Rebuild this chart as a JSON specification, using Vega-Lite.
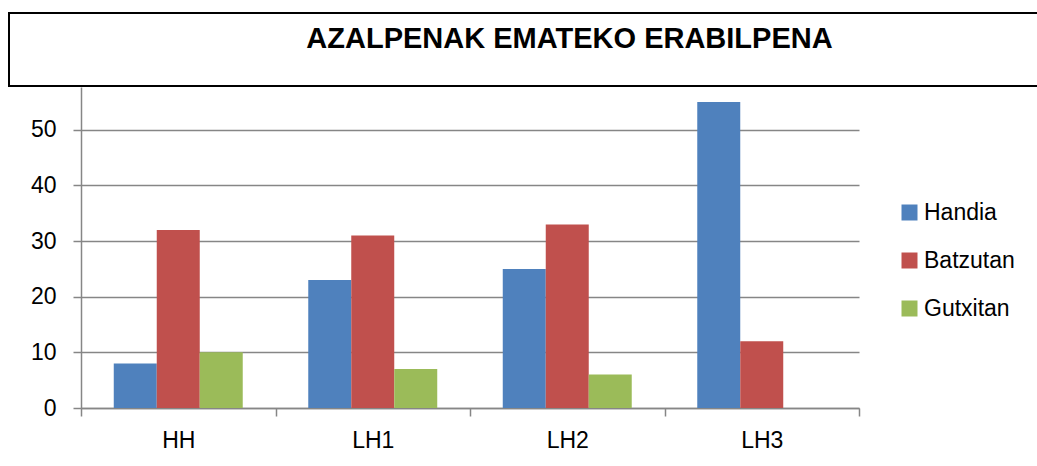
{
  "$schema": "https://vega.github.io/schema/vega-lite/v6.json",
  "padding": {"left": 8, "top": 12, "right": 0, "bottom": 0},
  "spacing": 0,
  "background": "white",
  "resolve": {"legend": {"color": "independent"}},
  "config": {
    "font": "Liberation Sans",
    "axis": {"labelFont": "Liberation Sans", "labelColor": "black"},
    "legend": {"labelFont": "Liberation Sans"}
  },
  "vconcat": [
    {
      "width": 1029,
      "height": 73,
      "view": {"stroke": "black", "strokeWidth": 2, "fill": "white"},
      "data": {"values": [{"title": "AZALPENAK EMATEKO ERABILPENA"}]},
      "mark": {"type": "text", "font": "Liberation Sans", "fontWeight": "bold", "fontSize": 29, "color": "black", "dx": 46, "dy": -11, "baseline": "middle", "align": "center"},
      "encoding": {"text": {"field": "title"}}
    },
    {
      "width": 850,
      "height": 321,
      "view": {"stroke": null},
      "data": {"values": [
        {"category": "HH", "series": "Handia", "value": 8},
        {"category": "HH", "series": "Batzutan", "value": 32},
        {"category": "HH", "series": "Gutxitan", "value": 10},
        {"category": "LH1", "series": "Handia", "value": 23},
        {"category": "LH1", "series": "Batzutan", "value": 31},
        {"category": "LH1", "series": "Gutxitan", "value": 7},
        {"category": "LH2", "series": "Handia", "value": 25},
        {"category": "LH2", "series": "Batzutan", "value": 33},
        {"category": "LH2", "series": "Gutxitan", "value": 6},
        {"category": "LH3", "series": "Handia", "value": 55},
        {"category": "LH3", "series": "Batzutan", "value": 12}
      ]},
      "mark": {"type": "bar"},
      "encoding": {
        "x": {
          "field": "category", "type": "nominal", "sort": ["HH", "LH1", "LH2", "LH3"],
          "scale": {"range": [72, 850], "paddingInner": 0, "paddingOuter": 0},
          "axis": {
            "title": null, "labelAngle": 0, "labelFontSize": 23, "labelPadding": 13,
            "domainColor": "#868686", "domainWidth": 1.5, "tickColor": "#868686", "tickWidth": 1.5,
            "tickSize": 8, "tickBand": "extent", "grid": false
          }
        },
        "xOffset": {"field": "series", "type": "nominal", "sort": ["Handia", "Batzutan", "Gutxitan"], "scale": {"paddingInner": 0, "paddingOuter": 0.762}},
        "y": {
          "field": "value", "type": "quantitative",
          "scale": {"domain": [0, 57.7], "nice": false, "zero": true},
          "axis": {
            "title": null, "values": [0, 10, 20, 30, 40, 50], "labelFontSize": 23, "labelPadding": 17,
            "offset": -72,
            "grid": true, "gridColor": "#868686", "gridWidth": 1.5,
            "domainColor": "#868686", "domainWidth": 1.5, "tickColor": "#868686", "tickWidth": 1.5, "tickSize": 8
          }
        },
        "color": {
          "field": "series", "type": "nominal", "sort": ["Handia", "Batzutan", "Gutxitan"],
          "scale": {"domain": ["Handia", "Batzutan", "Gutxitan"], "range": ["#4F81BD", "#C0504D", "#9BBB59"]},
          "legend": {
            "title": null, "orient": "none", "legendX": 889, "legendY": 114, "padding": 0,
            "symbolType": "square", "symbolSize": 256, "symbolStrokeWidth": 0, "symbolOpacity": 1,
            "labelFontSize": 23, "labelOffset": 3, "rowPadding": 24, "labelColor": "black"
          }
        }
      }
    }
  ]
}
